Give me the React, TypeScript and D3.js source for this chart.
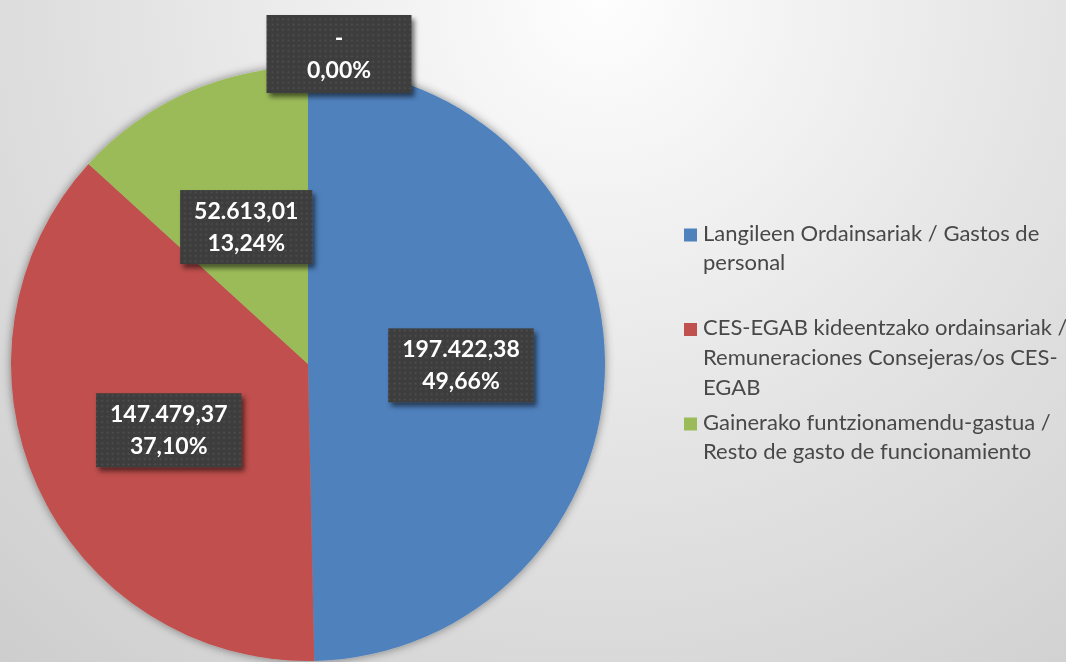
import React from "react";
import * as d3 from "d3";

const categories = [
  "Langileen Ordainsariak / Gastos de personal",
  "CES-EGAB kideentzako ordainsariak / Remuneraciones Consejeras/os CES-EGAB",
  "Gainerako funtzionamendu-gastua / Resto de gasto de funcionamiento",
  "",
];
const values = [197422.38, 147479.37, 52613.01, 0];
const valueLabels = ["197.422,38", "147.479,37", "52.613,01", "-"];
const percentLabels = ["49,66%", "37,10%", "13,24%", "0,00%"];
const legendLines = [
  ["Langileen Ordainsariak / Gastos de", "personal"],
  ["CES-EGAB kideentzako ordainsariak /", "Remuneraciones Consejeras/os CES-", "EGAB"],
  ["Gainerako funtzionamendu-gastua /", "Resto de gasto de funcionamiento"],
];
const colors = ["#4f81bd", "#c0504d", "#9bbb59", "#8064a2"];

const W = 1066;
const H = 662;
const CX = 308;
const CY = 364;
const R = 297;
const LABEL_K = 0.515;
const LABEL_DY = 3;
const LABEL_FONT = 23;
const LEGEND_FONT = 22;

function measure(text: string, font: string) {
  const c = document.createElement("canvas");
  const ctx = c.getContext("2d")!;
  ctx.font = font;
  return ctx.measureText(text).width;
}

export default function App() {
  const pie = d3.pie<number>().sort(null).startAngle(0).endAngle(2 * Math.PI);
  const arcs = pie(values);
  const arc = d3.arc<d3.PieArcDatum<number>>().innerRadius(0).outerRadius(R);
  const labelArc = d3
    .arc<d3.PieArcDatum<number>>()
    .innerRadius(R * LABEL_K)
    .outerRadius(R * LABEL_K);

  const labelFont = `bold ${LABEL_FONT}px Lato`;

  return (
    <div style={{ position: "fixed", left: 0, top: 0, width: W, height: H }}>
      <svg width={W} height={H} style={{ display: "block" }}>
        <defs>
          <radialGradient id="bg" gradientUnits="userSpaceOnUse" cx={600} cy={0} r={900}>
            <stop offset="0" stopColor="#fefefe" />
            <stop offset="0.5" stopColor="#e4e4e4" />
            <stop offset="1" stopColor="#cdcdcd" />
          </radialGradient>
          <pattern id="dots" width={5.3} height={5.3} patternUnits="userSpaceOnUse">
            <rect width={5.3} height={5.3} fill="#3e3e3e" />
            <rect x={1.6} y={1.6} width={1.5} height={1.5} fill="#525252" />
          </pattern>
          <filter id="pieShadow" x="-10%" y="-10%" width="120%" height="120%">
            <feDropShadow dx={0} dy={0} stdDeviation={5} floodColor="#000" floodOpacity={0.45} />
          </filter>
          <filter id="boxShadow" x="-20%" y="-20%" width="140%" height="150%">
            <feDropShadow dx={3} dy={4} stdDeviation={2.5} floodColor="#000" floodOpacity={0.55} />
          </filter>
        </defs>
        <rect width={W} height={H} fill="url(#bg)" />

        <g transform={`translate(${CX},${CY})`}>
          <g filter="url(#pieShadow)">
            {arcs.map((a, i) => (
              <path key={i} d={arc(a) || ""} fill={colors[i]} />
            ))}
          </g>
          {arcs.map((a, i) => {
            let [x, y] = labelArc.centroid(a);
            y += LABEL_DY;
            let bw = Math.max(measure(valueLabels[i], labelFont), measure(percentLabels[i], labelFont)) + 28;
            let bh = 74;
            if (values[i] === 0) {
              x = 31;
              y = -R - 13;
              bw = 145;
              bh = 78;
            }
            return (
              <g key={"l" + i} transform={`translate(${x},${y})`}>
                <rect
                  x={-bw / 2}
                  y={-bh / 2}
                  width={bw}
                  height={bh}
                  fill="url(#dots)"
                  filter="url(#boxShadow)"
                />
                <text
                  textAnchor="middle"
                  fill="#ffffff"
                  fontFamily="Lato"
                  fontWeight="bold"
                  fontSize={LABEL_FONT}
                >
                  <tspan x={0} y={-16 + LABEL_FONT * 0.35}>{valueLabels[i]}</tspan>
                  <tspan x={0} y={16 + LABEL_FONT * 0.35}>{percentLabels[i]}</tspan>
                </text>
              </g>
            );
          })}
        </g>

        <g transform="translate(684,233)">
          {legendLines.map((lines, i) => (
            <g key={i} transform={`translate(0,${i * 94.5})`}>
              <rect x={0} y={-4.5} width={13} height={13} fill={colors[i]} />
              <text fill="#484848" fontFamily="Lato" fontSize={LEGEND_FONT}>
                {lines.map((ln, j) => (
                  <tspan key={j} x={19} y={j * 29.7 + LEGEND_FONT * 0.35}>
                    {ln}
                  </tspan>
                ))}
              </text>
            </g>
          ))}
        </g>
      </svg>
    </div>
  );
}
